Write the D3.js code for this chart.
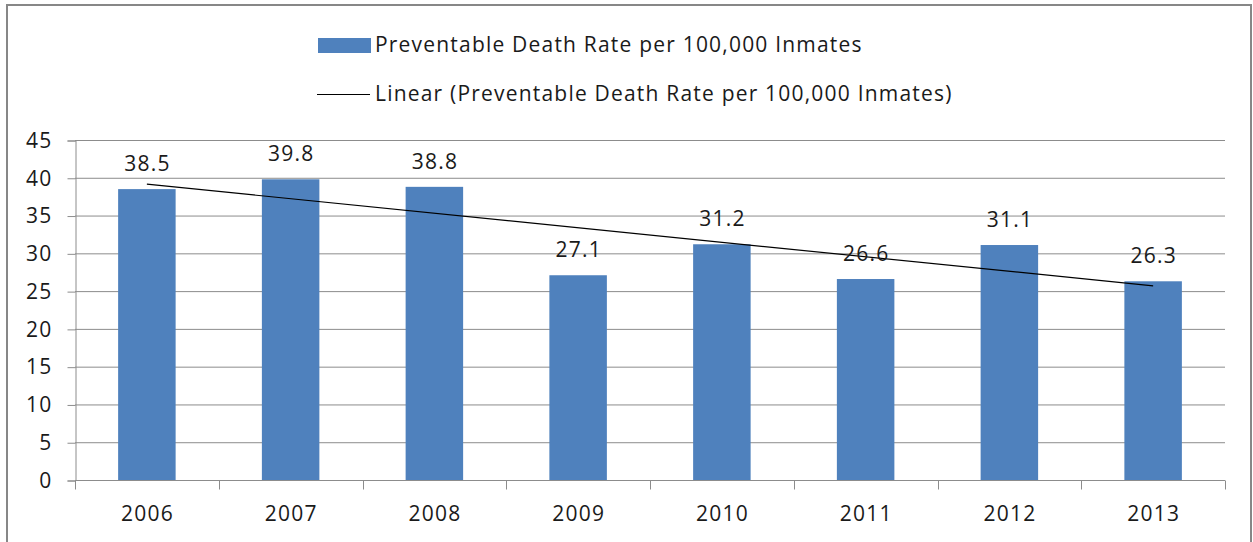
<!DOCTYPE html>
<html>
<head>
<meta charset="utf-8">
<script src="https://cdn.jsdelivr.net/npm/d3@7"></script>
<style>
  html, body { margin: 0; padding: 0; background: #fff; }
  svg { display: block; }
  text { font-family: "Open Sans", Lato, sans-serif; fill: #1a1a1a; letter-spacing: 1.2px; }
</style>
</head>
<body>
<script>
// Preventable death rate per 100,000 inmates, by year
const years = ["2006", "2007", "2008", "2009", "2010", "2011", "2012", "2013"];
const rates = [38.5, 39.8, 38.8, 27.1, 31.2, 26.6, 31.1, 26.3];
const yTicks = [0, 5, 10, 15, 20, 25, 30, 35, 40, 45];
const barLabel = "Preventable Death Rate per 100,000 Inmates";
const trendLabel = "Linear (Preventable Death Rate per 100,000 Inmates)";

const W = 1253, H = 542;
const plot = { left: 75, right: 1225, top: 140, bottom: 480 };
const fontSize = 21;

const svg = d3.select("body").append("svg").attr("width", W).attr("height", H);

// chart frame
svg.append("rect")
  .attr("x", 7).attr("y", 5).attr("width", 1244).attr("height", 560)
  .attr("fill", "#fff").attr("stroke", "#878787").attr("stroke-width", 2);

const x = d3.scaleBand().domain(years).range([plot.left, plot.right]).paddingInner(0.6).paddingOuter(0.3);
const xCat = d3.scaleBand().domain(years).range([plot.left, plot.right]);
const y = d3.scaleLinear().domain([0, 45]).range([plot.bottom, plot.top]);

// horizontal gridlines
svg.append("g").selectAll("line").data(yTicks.filter(t => t > 0)).join("line")
  .attr("x1", plot.left).attr("x2", plot.right)
  .attr("y1", d => y(d) + 0.5).attr("y2", d => y(d) + 0.5)
  .attr("stroke", "#8c8c8c").attr("stroke-width", 1);

// y axis
const yAxis = svg.append("g").attr("transform", `translate(${plot.left + 0.5},0.5)`)
  .call(d3.axisLeft(y).tickValues(yTicks).tickSize(8).tickPadding(15).tickFormat(d3.format("d")));
yAxis.select(".domain").attr("stroke", "#8c8c8c");
yAxis.selectAll(".tick line").attr("stroke", "#8c8c8c");
yAxis.selectAll("text").attr("font-size", fontSize).attr("fill", "#1a1a1a").attr("font-family", "Open Sans");

// bars
svg.append("g").selectAll("rect").data(years).join("rect")
  .attr("x", (d) => x(d))
  .attr("width", x.bandwidth())
  .attr("y", (d, i) => y(rates[i]))
  .attr("height", (d, i) => y(0) - y(rates[i]))
  .attr("fill", "#4f81bd");

// x axis with ticks at category boundaries
const xAxisG = svg.append("g").attr("transform", `translate(0,${plot.bottom + 0.5})`);
xAxisG.append("line").attr("x1", plot.left).attr("x2", plot.right).attr("stroke", "#8c8c8c");
const bounds = years.map(d => xCat(d)).concat([plot.right]);
xAxisG.selectAll("line.tk").data(bounds).join("line").attr("class", "tk")
  .attr("x1", d => Math.round(d) + 0.5).attr("x2", d => Math.round(d) + 0.5)
  .attr("y1", 0).attr("y2", 9).attr("stroke", "#8c8c8c");
xAxisG.selectAll("text").data(years).join("text")
  .attr("x", d => xCat(d) + xCat.bandwidth() / 2 + 0.6)
  .attr("y", 40)
  .attr("text-anchor", "middle").attr("font-size", fontSize)
  .text(d => d);

// linear trendline (least squares over category index)
const n = rates.length;
const idx = d3.range(1, n + 1);
const mx = d3.mean(idx), my = d3.mean(rates);
const slope = d3.sum(idx, (v, i) => (v - mx) * (rates[i] - my)) / d3.sum(idx, v => (v - mx) ** 2);
const intercept = my - slope * mx;
const center = d => xCat(d) + xCat.bandwidth() / 2;
svg.append("line")
  .attr("x1", center(years[0])).attr("y1", y(intercept + slope * 1))
  .attr("x2", center(years[n - 1])).attr("y2", y(intercept + slope * n))
  .attr("stroke", "#000").attr("stroke-width", 1.2);

// value labels
svg.append("g").selectAll("text").data(years).join("text")
  .attr("x", d => center(d) + 0.6)
  .attr("y", (d, i) => y(rates[i]) - 18)
  .attr("text-anchor", "middle").attr("font-size", fontSize)
  .text((d, i) => rates[i].toFixed(1));

// legend
const lg = svg.append("g");
lg.append("rect").attr("x", 318).attr("y", 38).attr("width", 53).attr("height", 15).attr("fill", "#4f81bd");
lg.append("text").attr("x", 375).attr("y", 52).attr("font-size", fontSize).text(barLabel);
lg.append("line").attr("x1", 317).attr("x2", 370).attr("y1", 94.5).attr("y2", 94.5).attr("stroke", "#000").attr("stroke-width", 1.2);
lg.append("text").attr("x", 375).attr("y", 101).attr("font-size", fontSize).text(trendLabel);
</script>
</body>
</html>
